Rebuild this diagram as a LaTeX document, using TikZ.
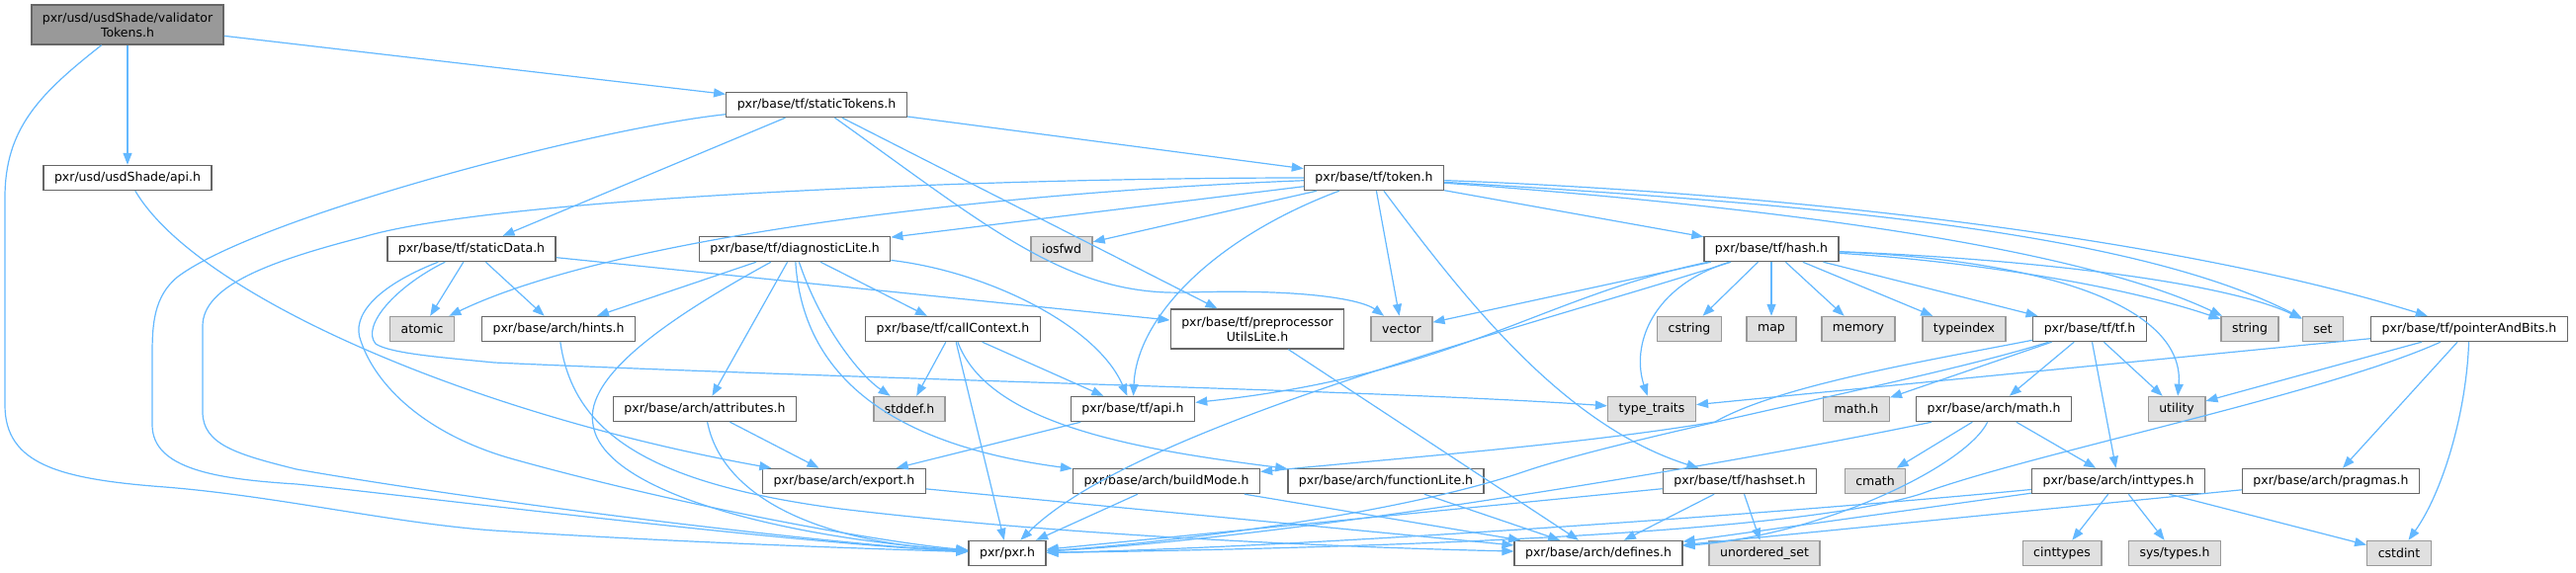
\documentclass[tikz,border=0pt]{standalone}
\usepackage{fontspec}
\setmainfont{DejaVu Sans}
\usetikzlibrary{arrows.meta}
\definecolor{edgeblue}{HTML}{63B8FF}
\definecolor{boxline}{HTML}{666666}
\definecolor{sysline}{HTML}{999999}
\definecolor{sysfill}{HTML}{E0E0E0}
\definecolor{rootfill}{HTML}{999999}
\tikzset{
  hfile/.style={draw=boxline, fill=white, line width=1.4pt, minimum height=25pt,
    inner xsep=11pt, inner ysep=0pt, font=\fontsize{12.5}{15}\selectfont},
  sysfile/.style={hfile, draw=sysline, fill=sysfill},
  twoline/.style={hfile, align=center, minimum height=40pt},
  rootfile/.style={twoline, fill=rootfill},
  incl/.style={draw=edgeblue, line width=1.2pt, -{Triangle[length=12pt,width=9pt]}},
}
\begin{document}
\begin{tikzpicture}[x=1pt,y=-1pt]
			%%%%% START %%%%%
			\useasboundingbox (0,0) rectangle (2606,579);
			
			% files, row by row
			\node[rootfile] (vtok) at (129,25) {pxr/usd/usdShade/validator\\Tokens.h};
			
			\node[hfile] (stok) at (826,106) {pxr/base/tf/staticTokens.h};
			
			\node[hfile] (sapi) at (129,180) {pxr/usd/usdShade/api.h};
			\node[hfile] (tok) at (1390,180) {pxr/base/tf/token.h};
			
			\node[hfile] (sdata) at (477,252) {pxr/base/tf/staticData.h};
			\node[hfile] (diag) at (804,252) {pxr/base/tf/diagnosticLite.h};
			\node[sysfile] (iosfwd) at (1074,252) {iosfwd};
			\node[hfile] (hash) at (1792,252) {pxr/base/tf/hash.h};
			
			\node[sysfile] (atomic) at (427,333) {atomic};
			\node[hfile] (hints) at (565,333) {pxr/base/arch/hints.h};
			\node[hfile] (cctx) at (964,333) {pxr/base/tf/callContext.h};
			\node[twoline] (pre) at (1272,333) {pxr/base/tf/preprocessor\\UtilsLite.h};
			\node[sysfile] (vector) at (1418,333) {vector};
			\node[sysfile] (cstring) at (1709,333) {cstring};
			\node[sysfile] (map) at (1792,333) {map};
			\node[sysfile] (memory) at (1880,333) {memory};
			\node[sysfile] (tindex) at (1987,333) {typeindex};
			\node[hfile] (tf) at (2114,333) {pxr/base/tf/tf.h};
			\node[sysfile] (string) at (2276,333) {string};
			\node[sysfile] (set) at (2350,333) {set};
			\node[hfile] (pab) at (2498,333) {pxr/base/tf/pointerAndBits.h};
			
			\node[hfile] (attr) at (713,414) {pxr/base/arch/attributes.h};
			\node[sysfile] (stddef) at (920,414) {stddef.h};
			\node[hfile] (tfapi) at (1146,414) {pxr/base/tf/api.h};
			\node[sysfile] (ttraits) at (1671,414) {type\_traits};
			\node[sysfile] (mathh) at (1878,414) {math.h};
			\node[hfile] (amath) at (2017,414) {pxr/base/arch/math.h};
			\node[sysfile] (utility) at (2202,414) {utility};
			
			\node[hfile] (export) at (854,487) {pxr/base/arch/export.h};
			\node[hfile] (bmode) at (1180,487) {pxr/base/arch/buildMode.h};
			\node[hfile] (flite) at (1402,487) {pxr/base/arch/functionLite.h};
			\node[hfile] (hset) at (1760,487) {pxr/base/tf/hashset.h};
			\node[sysfile] (cmath) at (1897,487) {cmath};
			\node[hfile] (itypes) at (2143,487) {pxr/base/arch/inttypes.h};
			\node[hfile] (prag) at (2358,487) {pxr/base/arch/pragmas.h};
			
			\node[hfile] (pxr) at (1019,560) {pxr/pxr.h};
			\node[hfile] (defs) at (1617,560) {pxr/base/arch/defines.h};
			\node[sysfile] (uset) at (1785,560) {unordered\_set};
			\node[sysfile] (cinttypes) at (2086,560) {cinttypes};
			\node[sysfile] (systypes) at (2200,560) {sys/types.h};
			\node[sysfile] (cstdint) at (2427,560) {cstdint};
			
			% validatorTokens.h
			\draw[incl] (vtok) -- (stok);
			\draw[incl] (vtok) -- (sapi);
			\draw[incl] (vtok) .. controls (40,95) and (5,130) .. (5,200) -- (5,410) .. controls (5,470) and (60,485) .. (167,493) .. controls (280,502) and (400,530) .. (500,537) .. controls (700,550) and (900,556) .. (pxr);
			
			\draw[incl] (sapi) .. controls (200,300) and (480,420) .. (export);
			
			% staticTokens.h
			\draw[incl] (stok) .. controls (600,130) and (260,220) .. (180,280) .. controls (155,300) and (154,330) .. (154,360) -- (154,430) .. controls (154,475) and (220,485) .. (300,490) .. controls (400,500) and (800,550) .. (pxr);
			\draw[incl] (stok) -- (sdata);
			\draw[incl] (stok) -- (tok);
			\draw[incl] (stok) -- (pre);
			\draw[incl] (stok) .. controls (1000,230) and (1080,300) .. (1200,296) .. controls (1330,292) and (1380,305) .. (vector);
			
			% staticData.h
			\draw[incl] (sdata) .. controls (380,290) and (355,320) .. (365,345) .. controls (380,390) and (430,440) .. (520,465) .. controls (700,515) and (900,550) .. (pxr);
			\draw[incl] (sdata) .. controls (400,290) and (365,330) .. (380,348) .. controls (395,358) and (450,362) .. (500,367) .. controls (900,385) and (1400,395) .. (ttraits);
			\draw[incl] (sdata) -- (atomic);
			\draw[incl] (sdata) -- (hints);
			\draw[incl] (sdata) -- (pre);
			
			% token.h
			\draw[incl] (tok) .. controls (1000,180) and (500,200) .. (367,240) .. controls (270,265) and (205,290) .. (205,330) -- (205,417) .. controls (205,450) and (240,460) .. (300,475) .. controls (500,510) and (850,552) .. (pxr);
			\draw[incl] (tok) .. controls (1000,195) and (620,240) .. (atomic);
			\draw[incl] (tok) -- (diag);
			\draw[incl] (tok) -- (iosfwd);
			\draw[incl] (tok) .. controls (1230,240) and (1150,320) .. (tfapi);
			\draw[incl] (tok) -- (vector);
			\draw[incl] (tok) .. controls (1480,300) and (1580,430) .. (hset);
			\draw[incl] (tok) -- (hash);
			\draw[incl] (tok) .. controls (1800,210) and (2100,250) .. (string);
			\draw[incl] (tok) .. controls (1800,205) and (2150,230) .. (set);
			\draw[incl] (tok) .. controls (1800,195) and (2200,240) .. (pab);
			
			% hash.h
			\draw[incl] (hash) -- (vector);
			\draw[incl] (hash) .. controls (1560,300) and (1470,380) .. (tfapi);
			\draw[incl] (hash) .. controls (1550,330) and (1150,430) .. (pxr);
			\draw[incl] (hash) .. controls (1670,290) and (1650,350) .. (ttraits);
			\draw[incl] (hash) -- (cstring);
			\draw[incl] (hash) -- (map);
			\draw[incl] (hash) -- (memory);
			\draw[incl] (hash) -- (tindex);
			\draw[incl] (hash) -- (tf);
			\draw[incl] (hash) .. controls (2000,265) and (2150,290) .. (string);
			\draw[incl] (hash) .. controls (2050,262) and (2250,285) .. (set);
			\draw[incl] (hash) .. controls (2100,265) and (2210,320) .. (utility);
			
			% tf.h
			\draw[incl] (tf) .. controls (1950,365) and (1800,390) .. (1735,427) .. controls (1600,450) and (1400,465) .. (bmode);
			\draw[incl] (tf) .. controls (1950,385) and (1650,440) .. (1540,478) .. controls (1400,525) and (1150,552) .. (pxr);
			\draw[incl] (tf) -- (mathh);
			\draw[incl] (tf) -- (amath);
			\draw[incl] (tf) -- (itypes);
			\draw[incl] (tf) -- (utility);
			
			% pointerAndBits.h
			\draw[incl] (pab) -- (ttraits);
			\draw[incl] (pab) -- (utility);
			\draw[incl] (pab) .. controls (2350,400) and (2050,460) .. (1943,500) .. controls (1800,545) and (1300,556) .. (pxr);
			\draw[incl] (pab) -- (prag);
			\draw[incl] (pab) .. controls (2495,420) and (2470,500) .. (cstdint);
			
			% diagnosticLite.h
			\draw[incl] (diag) .. controls (680,320) and (590,380) .. (600,430) .. controls (610,500) and (800,545) .. (pxr);
			\draw[incl] (diag) -- (hints);
			\draw[incl] (diag) -- (attr);
			\draw[incl] (diag) .. controls (830,330) and (870,380) .. (stddef);
			\draw[incl] (diag) -- (cctx);
			\draw[incl] (diag) .. controls (812,380) and (900,450) .. (bmode);
			\draw[incl] (diag) .. controls (1000,275) and (1110,330) .. (tfapi);
			
			% arch headers
			\draw[incl] (hints) .. controls (580,440) and (660,490) .. (850,515) .. controls (1100,545) and (1400,555) .. (defs);
			\draw[incl] (attr) -- (export);
			\draw[incl] (attr) .. controls (730,500) and (820,548) .. (pxr);
			\draw[incl] (export) -- (defs);
			
			\draw[incl] (cctx) -- (stddef);
			\draw[incl] (cctx) -- (tfapi);
			\draw[incl] (cctx) -- (pxr);
			\draw[incl] (cctx) .. controls (1000,430) and (1150,455) .. (flite);
			
			\draw[incl] (tfapi) -- (export);
			\draw[incl] (pre) -- (defs);
			\draw[incl] (bmode) -- (pxr);
			\draw[incl] (bmode) -- (defs);
			\draw[incl] (flite) -- (defs);
			
			\draw[incl] (hset) -- (pxr);
			\draw[incl] (hset) -- (defs);
			\draw[incl] (hset) -- (uset);
			
			\draw[incl] (amath) .. controls (1750,470) and (1300,545) .. (pxr);
			\draw[incl] (amath) -- (cmath);
			\draw[incl] (amath) .. controls (1990,470) and (1850,540) .. (defs);
			\draw[incl] (amath) -- (itypes);
			
			\draw[incl] (itypes) .. controls (1800,520) and (1300,555) .. (pxr);
			\draw[incl] (itypes) -- (defs);
			\draw[incl] (itypes) -- (cinttypes);
			\draw[incl] (itypes) -- (systypes);
			\draw[incl] (itypes) -- (cstdint);
			
			\draw[incl] (prag) -- (defs);
			
			%%%%% END %%%%%
\end{tikzpicture}
\end{document}
